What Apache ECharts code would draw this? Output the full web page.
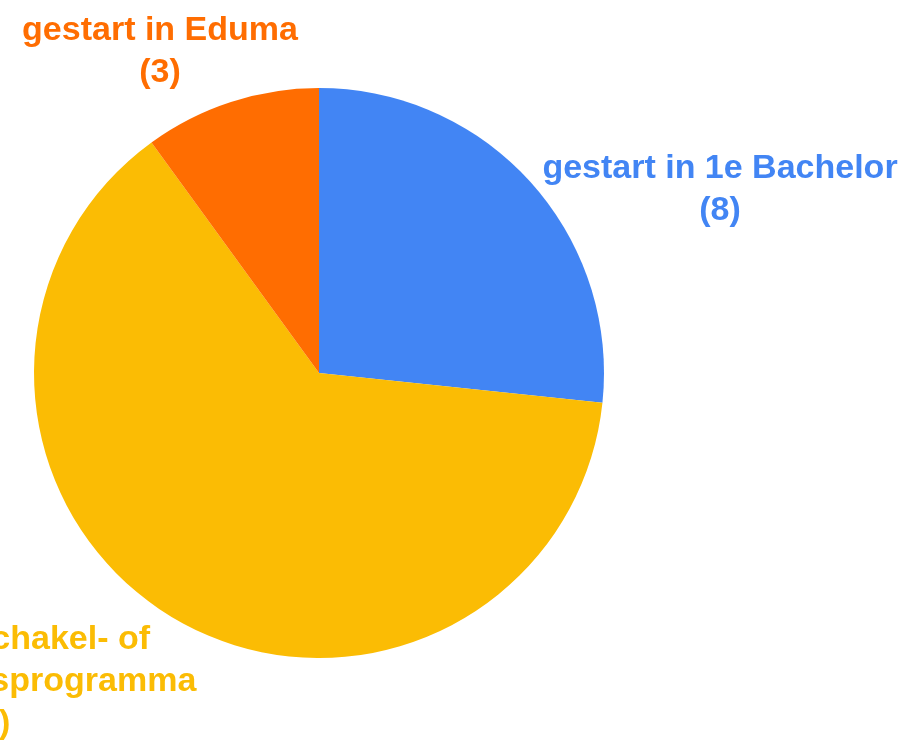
<!DOCTYPE html>
<html>
<head>
<meta charset="utf-8">
<script src="https://cdn.jsdelivr.net/npm/echarts@6/dist/echarts.min.js"></script>
<style>
  html, body { margin: 0; padding: 0; background: #fff; }
  #chart { width: 912px; height: 740px; }
</style>
</head>
<body>
<div id="chart"></div>
<script>
// data
const categories = ['gestart in 1e Bachelor', 'gestart in schakel- of\nvoorbereidingsprogramma', 'gestart in Eduma'];
const values = [8, 19, 3];
const colors = ['#4285F4', '#FBBC04', '#FF6D01'];

// label centres (px)
const labelPos = [
  {x: 720, y: 190},
  {x: -20, y: 682},
  {x: 160, y: 52}
];

const chart = echarts.init(document.getElementById('chart'));

const option = {
  animation: false,
  series: [{
    type: 'pie',
    center: [319, 373],
    radius: 285,
    startAngle: 90,
    clockwise: true,
    data: categories.map((name, i) => ({
      name: name,
      value: values[i],
      itemStyle: {color: colors[i]},
      label: {color: colors[i]}
    })),
    label: {
      show: true,
      position: 'outside',
      formatter: '{b}\n({c})',
      fontFamily: 'Liberation Sans, Arial, sans-serif',
      fontWeight: 'bold',
      fontSize: 34,
      lineHeight: 42,
      align: 'center',
      overflow: 'none'
    },
    labelLine: {show: false},
    labelLayout: function (params) {
      const p = labelPos[params.dataIndex];
      return {x: p.x, y: p.y, align: 'center', verticalAlign: 'middle', width: 600};
    }
  }]
};
chart.setOption(option);
</script>
</body>
</html>
